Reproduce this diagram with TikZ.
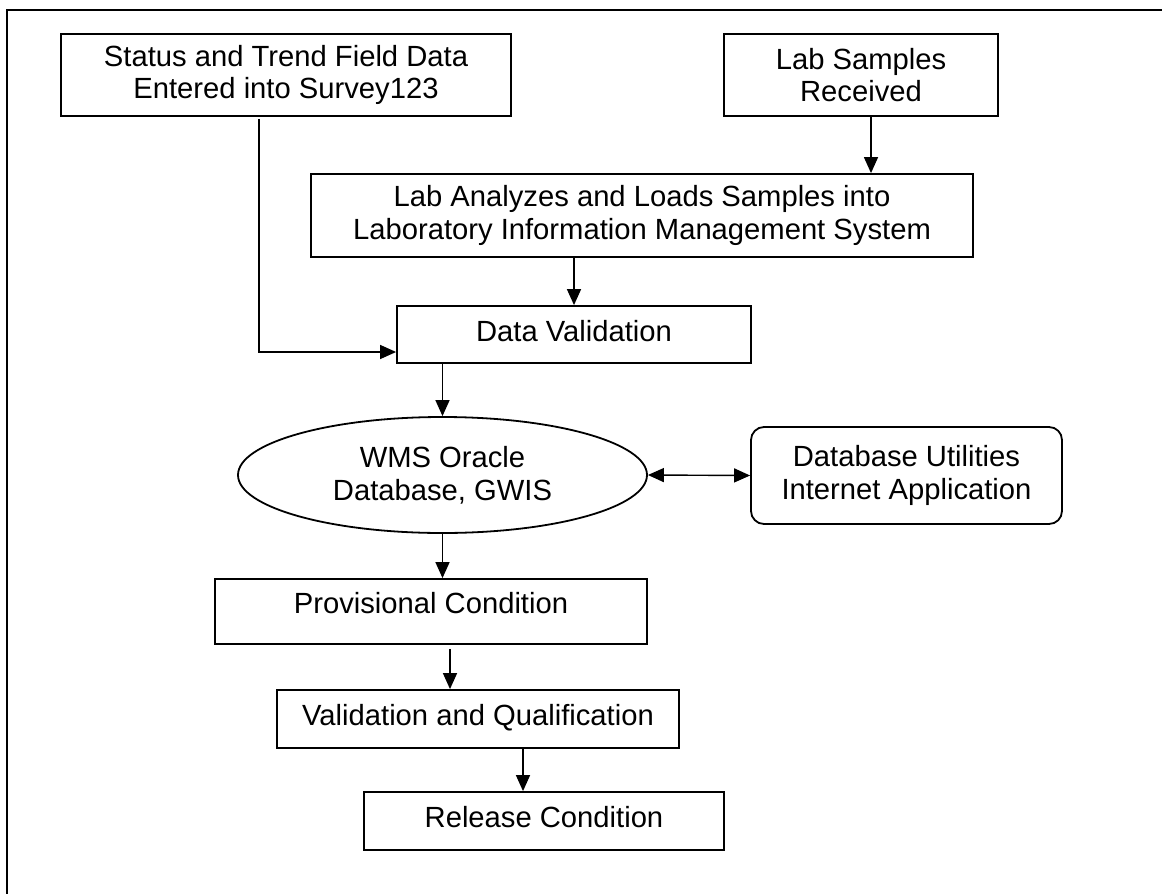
\documentclass[tikz,border=0pt]{standalone}
\usepackage{fontspec}
\setmainfont{Liberation Sans}
\usetikzlibrary{arrows.meta,shapes.geometric}
\tikzset{
  every node/.style={font=\fontsize{29.2}{32.7}\selectfont, align=center, inner sep=0pt},
  procbox/.style={draw, line width=1.8pt, rectangle},
  oneline/.style={text depth=8pt},
  dbnode/.style={draw, line width=1.8pt, ellipse},
  appbox/.style={draw, line width=1.8pt, rounded corners=13pt},
  flow/.style={-{Triangle[length=16pt,width=14pt]}, line width=1.4pt},
  duplex/.style={{Triangle[length=16pt,width=14pt]}-{Triangle[length=16pt,width=14pt]}, line width=1.4pt},
  frameline/.style={line width=2.5pt}
}

\begin{document}
\begin{tikzpicture}[x=1pt,y=-1pt] % pixel grid, y down
\useasboundingbox (0,0) rectangle (1162,894);
\draw[frameline] (7,894) -- (7,10) -- (1162,10);

\node[procbox, minimum width=450pt, minimum height=82pt] (field) at (286,75) {Status and Trend Field Data\\Entered into Survey123};
\node[procbox, minimum width=274pt, minimum height=82pt] (labin) at (861,75) {Lab Samples\\Received};
\node[procbox, minimum width=662pt, minimum height=83pt] (lims) at (642,215.5) {Lab Analyzes and Loads Samples into\\Laboratory Information Management System};
\node[procbox, oneline, minimum width=354pt, minimum height=57pt] (dataval) at (574,334.5) {Data Validation};
\node[dbnode, minimum width=409pt, minimum height=116pt] (wms) at (442.5,475) {WMS Oracle\\Database, GWIS};
\node[appbox, minimum width=311pt, minimum height=97pt] (dbutil) at (906.5,475.5) {Database Utilities\\Internet Application};
\node[procbox, text height=34pt, text depth=31pt, minimum width=432pt, minimum height=65pt] (prov) at (431,611.5) {Provisional Condition};
\node[procbox, oneline, minimum width=402pt, minimum height=58pt] (valq) at (478,719) {Validation and Qualification};
\node[procbox, oneline, minimum width=360pt, minimum height=58pt] (release) at (544,821) {Release Condition};

\draw[flow] ([xshift=-27pt,yshift=-2pt]field.south) |- ([yshift=-17.5pt]dataval.west);
\draw[flow] ([xshift=10pt]labin.south) -- ([xshift=10pt]labin.south |- lims.north);
\draw[flow] (lims.south -| dataval.north) -- (dataval.north);
\draw[flow] (dataval.south -| wms.north) -- (wms.north);
\draw[duplex] (wms.east) -- (dbutil.west);
\draw[flow] (wms.south) -- (wms.south |- prov.north);
\draw[flow] ([xshift=19pt,yshift=-4pt]prov.south) -- ([xshift=19pt]prov.south |- valq.north);
\draw[flow] ([xshift=45pt]valq.south) -- ([xshift=45pt]valq.south |- release.north);
\end{tikzpicture}
\end{document}
